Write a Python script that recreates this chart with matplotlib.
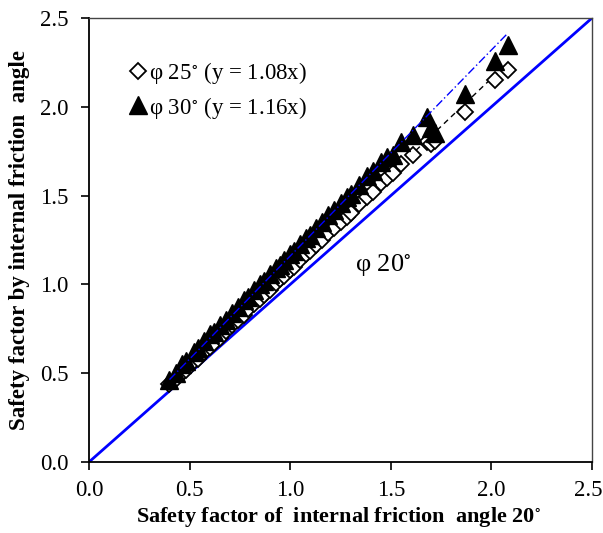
import matplotlib
matplotlib.use("Agg")
import matplotlib.pyplot as plt
import matplotlib.transforms as mtransforms
from matplotlib.lines import Line2D

plt.rcParams['font.family'] = ['Liberation Serif', 'DejaVu Serif']
plt.rcParams['mathtext.fontset'] = 'stix'

# Data: safety factor at friction angle 20 deg (x) vs 25 / 30 deg
sf20 = [0.40, 0.43, 0.46, 0.48, 0.52, 0.54, 0.57, 0.60, 0.62, 0.65,
        0.68, 0.71, 0.74, 0.77, 0.79, 0.82, 0.85, 0.87, 0.90, 0.93,
        0.95, 0.97, 1.00, 1.02, 1.05, 1.08, 1.10, 1.13, 1.16, 1.19,
        1.22, 1.25, 1.28, 1.30, 1.34, 1.38, 1.41, 1.45, 1.48, 1.51,
        1.55, 1.61, 1.68, 1.70, 1.72, 1.87, 2.02, 2.08]
sf25 = [0.44, 0.47, 0.50, 0.52, 0.57, 0.58, 0.62, 0.65, 0.67, 0.70,
        0.74, 0.77, 0.80, 0.83, 0.86, 0.89, 0.92, 0.94, 0.97, 1.01,
        1.03, 1.05, 1.08, 1.10, 1.14, 1.17, 1.19, 1.22, 1.25, 1.29,
        1.32, 1.35, 1.38, 1.40, 1.45, 1.49, 1.52, 1.57, 1.60, 1.63,
        1.68, 1.73, 1.80, 1.79, 1.81, 1.97, 2.15, 2.21]
sf30 = [0.46, 0.50, 0.55, 0.57, 0.62, 0.64, 0.68, 0.72, 0.73, 0.77,
        0.80, 0.84, 0.87, 0.91, 0.93, 0.97, 1.00, 1.02, 1.06, 1.09,
        1.11, 1.14, 1.17, 1.19, 1.23, 1.26, 1.28, 1.32, 1.35, 1.39,
        1.42, 1.46, 1.49, 1.51, 1.56, 1.61, 1.64, 1.69, 1.72, 1.73,
        1.80, 1.84, 1.94, 1.88, 1.85, 2.07, 2.26, 2.35]
slope25 = 1.08
slope30 = 1.16
fit_range = [0.40, 2.08]

fig = plt.figure(figsize=(6.03, 5.33), dpi=100)
ax = fig.add_axes([0.1476, 0.1332, 0.8342, 0.8330])

# 1:1 line (phi 20)
ax.plot([0, 2.5], [0, 2.5], color='#0000ff', lw=2.0, zorder=2)

# fit lines
ax.plot(fit_range, [slope25 * v for v in fit_range], color='black', lw=1.0,
        dashes=(4, 3), zorder=3)
ax.plot(fit_range, [slope30 * v for v in fit_range], color='#0000ff', lw=1.0,
        dashes=(6, 2, 1, 2), zorder=5)

ax.plot(sf20, sf25, linestyle='none', marker='D', markersize=8,
        markerfacecolor='white', markeredgecolor='black', markeredgewidth=1.3, zorder=4)
ax.plot(sf20, sf30, linestyle='none', marker='^', markersize=12.5,
        markerfacecolor='black', markeredgecolor='black', zorder=4)

ax.set_xlim(0, 2.5)
ax.set_ylim(0, 2.5)
ticks = [0.0, 0.5, 1.0, 1.5, 2.0, 2.5]
ax.set_xticks(ticks)
ax.set_yticks(ticks)
ax.set_xticklabels([f"{t:.1f}" for t in ticks])
ax.set_yticklabels([f"{t:.1f}" for t in ticks])
ax.tick_params(direction='out', length=6, width=1.2, labelsize=16.5)
ax.tick_params(axis='x', pad=7)
ax.tick_params(axis='y', pad=9)
for s in ['left', 'bottom']:
    ax.spines[s].set_linewidth(1.3)
for s in ['top', 'right']:
    ax.spines[s].set_linewidth(1.0)
    ax.spines[s].set_color('#444444')

# keep the last x tick label inside the canvas
last = ax.get_xticklabels()[-1]
last.set_transform(last.get_transform() +
                   mtransforms.ScaledTranslation(-4 / 100, 0, fig.dpi_scale_trans))

fig.text(339 / 603, 1 - 517 / 533,
         "Safety factor of  internal friction  angle 20$^{\\circ}$",
         fontsize=16, fontweight='bold', ha='center', va='center')
fig.text(20 / 603, 1 - 240 / 533, "Safety factor by internal friction  angle",
         fontsize=16.5, fontweight='bold', ha='center', va='center', rotation=90)

ax.text(1.46, 1.11, "φ 20$^{\\circ}$", fontsize=19, ha='center', va='center')

handles = [Line2D([], [], linestyle='none', marker='D', markersize=8,
                  markerfacecolor='white', markeredgecolor='black', markeredgewidth=1.3),
           Line2D([], [], linestyle='none', marker='^', markersize=12.5,
                  markerfacecolor='black', markeredgecolor='black')]
labels = ["φ 25$^{\\circ}$ (y = 1.08x)", "φ 30$^{\\circ}$ (y = 1.16x)"]
ax.legend(handles, labels, loc='upper left', bbox_to_anchor=(0.065, 0.925),
          frameon=False, fontsize=16.5, handlelength=0.6, handletextpad=0.2,
          labelspacing=0.35, borderaxespad=0)

fig.savefig("out.png", dpi=100)
